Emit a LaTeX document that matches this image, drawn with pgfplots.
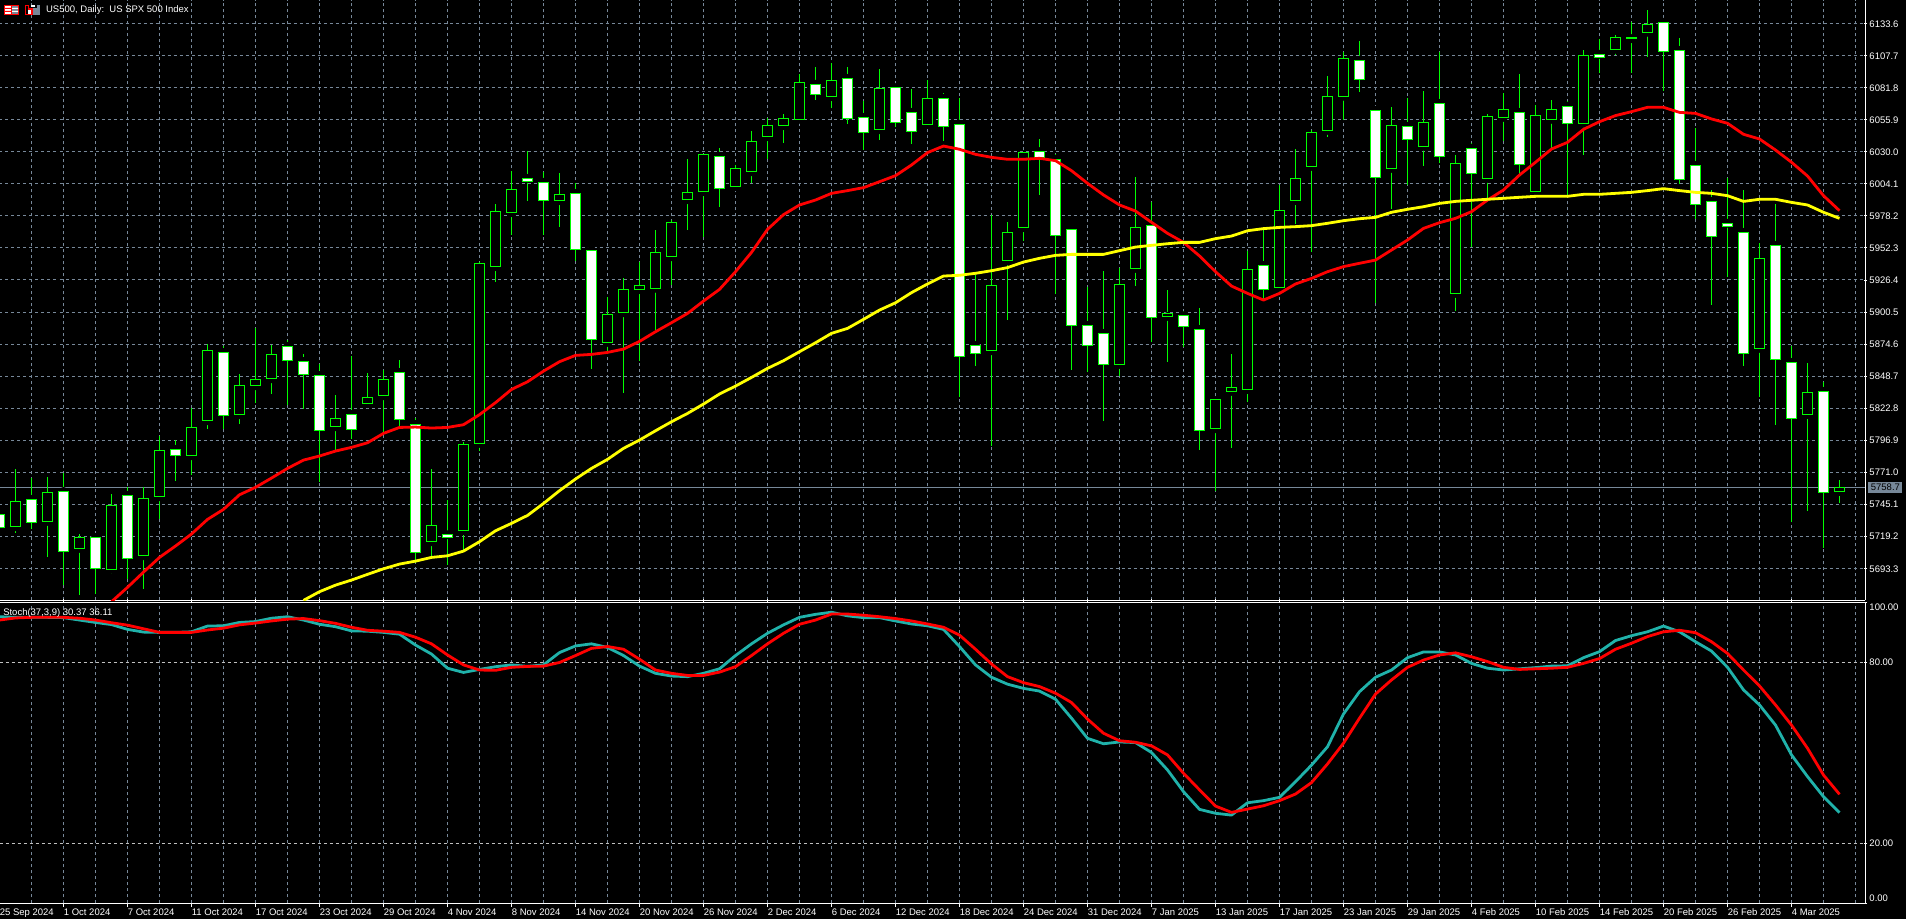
\documentclass[border=0pt]{standalone}
\usepackage{fontspec}
\setmainfont{Liberation Sans}
\usepackage{pgfplots}
\usepackage{pgfplotstable}
\pgfplotsset{compat=1.18}

\definecolor{cgreen}{RGB}{0,255,0}
\definecolor{cred}{RGB}{255,0,0}
\definecolor{cyel}{RGB}{255,255,0}
\definecolor{cteal}{RGB}{32,178,170}
\definecolor{cgrid}{RGB}{119,136,153}
\definecolor{clevel}{RGB}{192,192,192}

% bar, open, high, low, close, fast MA, slow MA, %K, %D
\pgfplotstableread{
n o h l c fast slow k d
0 5737.0 5738.0 5725.0 5726.3 nan nan 95.2 94.1
1 5727.1 5773.7 5722.2 5747.5 nan nan 95.0 94.8
2 5749.2 5766.4 5725.5 5730.3 nan nan 95.0 95.0
3 5731.4 5767.2 5702.8 5754.8 nan nan 95.0 95.0
4 5755.6 5770.7 5679.9 5706.9 nan nan 94.9 95.0
5 5709.6 5720.9 5671.9 5718.5 nan nan 94.1 94.7
6 5718.5 5721.7 5672.7 5693.4 nan nan 93.3 94.1
7 5692.6 5753.2 5688.8 5744.3 5666.5 nan 92.6 93.2
8 5752.4 5758.9 5684.5 5701.5 5678.1 nan 91.0 92.4
9 5703.6 5758.9 5677.0 5750.0 5690.4 nan 90.1 91.2
10 5751.3 5800.3 5733.3 5788.7 5702.3 nan 90.0 90.0
11 5789.6 5797.1 5764.0 5784.7 5711.5 nan 90.0 90.0
12 5784.4 5822.7 5769.1 5807.3 5721.2 nan 90.2 90.0
13 5812.7 5874.7 5806.0 5869.5 5733.0 nan 92.1 90.8
14 5867.9 5872.8 5806.0 5816.8 5741.1 nan 92.2 91.4
15 5817.6 5850.4 5810.0 5841.3 5752.9 nan 93.3 92.5
16 5841.0 5887.3 5827.3 5846.1 5758.9 nan 93.6 93.1
17 5846.6 5873.8 5834.3 5866.3 5766.4 nan 94.7 93.8
18 5872.8 5877.6 5825.1 5861.2 5774.2 nan 95.2 94.4
19 5860.6 5866.6 5822.4 5849.9 5780.9 5667.6 94.1 94.6
20 5849.3 5858.2 5763.2 5804.9 5784.2 5674.6 92.7 93.9
21 5807.9 5833.4 5788.7 5814.6 5788.2 5679.9 91.9 93.0
22 5817.8 5865.0 5797.9 5805.4 5791.2 5684.0 90.5 91.7
23 5826.4 5851.2 5824.6 5831.6 5794.9 5688.6 90.4 90.7
24 5832.9 5853.4 5803.3 5846.1 5802.5 5693.1 90.0 90.4
25 5851.8 5861.7 5807.9 5813.5 5807.3 5696.9 89.4 90.0
26 5809.8 5814.6 5697.5 5706.1 5807.6 5699.3 85.8 88.4
27 5715.0 5773.7 5702.8 5728.2 5806.8 5702.3 82.8 86.2
28 5720.6 5748.6 5696.1 5718.5 5807.3 5703.6 78.1 82.5
29 5724.1 5795.7 5706.9 5793.6 5809.5 5707.4 76.7 79.2
30 5794.4 5941.2 5788.5 5939.9 5817.6 5715.0 77.7 77.5
31 5937.2 5987.8 5924.8 5981.9 5827.3 5723.8 78.6 77.4
32 5980.8 6014.2 5962.7 5999.6 5838.0 5729.8 79.2 78.4
33 6008.5 6030.3 5990.2 6006.1 5844.2 5736.2 78.7 78.7
34 6005.3 6013.6 5962.7 5990.5 5852.8 5745.9 79.2 78.8
35 5990.5 6012.8 5969.2 5995.6 5860.4 5756.2 83.3 80.0
36 5996.4 6004.5 5941.7 5951.2 5865.5 5765.6 85.5 82.3
37 5950.4 5950.4 5854.5 5878.4 5866.3 5774.2 86.2 84.7
38 5876.0 5912.4 5867.1 5898.6 5867.9 5781.5 85.0 85.3
39 5900.0 5927.7 5835.3 5918.8 5870.6 5790.4 82.3 84.4
40 5918.6 5940.7 5861.2 5922.1 5876.8 5797.1 78.8 81.1
41 5919.7 5966.8 5886.0 5948.7 5884.6 5804.6 76.4 77.5
42 5945.2 5975.0 5922.3 5973.0 5891.9 5811.9 75.5 76.4
43 5991.3 6024.1 5966.8 5997.2 5899.4 5818.6 75.3 75.7
44 5997.8 6028.5 5961.1 6027.9 5909.4 5826.2 76.4 75.7
45 6026.3 6032.8 5985.4 6000.2 5918.8 5834.3 77.9 76.8
46 6001.8 6019.0 6000.8 6016.6 5933.1 5840.7 82.3 78.6
47 6013.9 6046.8 6004.8 6038.4 5948.7 5847.7 86.2 82.3
48 6042.2 6057.3 6024.1 6051.3 5967.3 5855.0 89.7 86.2
49 6051.1 6060.5 6036.8 6057.0 5979.2 5861.2 92.5 89.7
50 6056.2 6092.8 6053.0 6086.1 5987.0 5868.5 95.0 92.7
51 6084.5 6098.5 6071.8 6076.1 5991.0 5875.7 96.0 94.1
52 6074.5 6101.4 6065.1 6087.7 5996.4 5883.3 96.7 96.1
53 6089.3 6098.5 6052.4 6056.7 5998.6 5887.3 95.5 96.1
54 6057.8 6071.0 6031.7 6045.4 6001.0 5894.6 94.9 95.7
55 6047.8 6096.6 6039.5 6081.2 6005.8 5902.1 94.9 95.2
56 6081.8 6082.5 6050.3 6053.5 6010.7 5908.0 93.8 94.6
57 6061.8 6080.7 6036.3 6046.2 6019.3 5916.2 92.8 93.8
58 6051.9 6088.0 6048.4 6073.2 6029.3 5923.2 92.2 92.8
59 6073.2 6077.5 6038.7 6050.3 6034.6 5929.6 91.0 91.7
60 6052.2 6073.4 5831.8 5864.4 6032.0 5930.2 85.3 89.1
61 5873.6 5930.4 5856.9 5866.8 6027.9 5931.8 79.2 84.4
62 5869.3 5978.9 5792.5 5922.1 6025.5 5933.9 75.1 79.5
63 5942.0 5973.0 5894.0 5964.9 6023.9 5936.4 72.8 75.3
64 5968.7 6030.0 5958.2 6029.5 6023.9 5940.9 71.4 73.3
65 6030.1 6040.0 5995.1 6025.5 6024.7 5943.9 70.5 72.0
66 6023.9 6028.2 5915.1 5962.5 6022.8 5946.3 67.8 69.8
67 5967.3 5970.8 5853.6 5889.7 6014.7 5947.1 61.5 66.7
68 5889.7 5921.0 5852.3 5873.6 6004.5 5947.1 54.8 61.2
69 5883.3 5933.7 5812.7 5858.2 5995.1 5947.1 53.0 56.5
70 5858.2 5935.8 5849.1 5922.9 5987.0 5950.1 53.6 54.0
71 5935.8 6009.6 5921.8 5968.9 5982.1 5953.0 53.4 53.5
72 5970.6 5989.1 5876.0 5896.2 5973.0 5954.4 50.1 52.3
73 5897.0 5918.3 5860.1 5899.4 5964.1 5955.7 44.3 49.3
74 5897.5 5901.3 5872.5 5888.9 5956.8 5956.8 37.1 43.2
75 5886.5 5903.5 5789.3 5804.9 5945.8 5956.8 31.2 37.7
76 5806.2 5830.4 5756.2 5829.9 5933.1 5959.8 29.9 32.3
77 5836.4 5866.6 5790.9 5839.6 5921.5 5961.9 29.3 30.2
78 5838.0 5950.1 5827.5 5935.0 5915.6 5966.2 33.4 31.3
79 5938.2 5966.8 5911.0 5918.8 5910.2 5967.9 34.1 32.4
80 5920.5 6003.1 5915.0 5982.7 5915.6 5968.9 35.2 34.1
81 5990.5 6032.2 5971.9 6008.5 5923.2 5969.5 40.4 36.3
82 6018.2 6047.6 5948.7 6045.7 5927.7 5970.3 45.9 40.1
83 6047.3 6091.2 6042.2 6074.8 5933.1 5972.2 52.0 46.3
84 6074.8 6110.9 6055.7 6105.5 5937.2 5974.3 62.9 53.2
85 6103.9 6119.5 6078.5 6088.5 5939.9 5975.9 70.3 61.5
86 6063.5 6064.0 5908.0 6009.3 5942.5 5977.0 75.1 69.5
87 6016.6 6066.4 5983.7 6051.3 5950.6 5981.1 77.5 74.2
88 6050.5 6073.4 6002.9 6040.0 5958.7 5983.5 81.6 78.4
89 6034.4 6079.1 6018.8 6053.8 5968.1 5985.6 83.5 80.8
90 6069.1 6110.9 6021.2 6026.3 5972.7 5988.3 83.5 82.5
91 5915.6 6027.4 5901.3 6020.6 5976.2 5989.9 82.5 83.2
92 6032.8 6037.3 5953.3 6012.6 5981.6 5990.8 79.7 81.9
93 6008.5 6060.5 5989.7 6058.6 5991.0 5991.6 78.1 80.3
94 6057.8 6077.5 6038.7 6064.3 5999.1 5992.4 77.5 78.4
95 6061.8 6092.8 6010.7 6019.8 6011.2 5993.2 77.9 77.7
96 5997.8 6067.5 5995.9 6059.4 6021.5 5994.0 78.3 77.9
97 6056.2 6071.8 6032.8 6064.3 6032.2 5994.0 78.8 78.1
98 6066.7 6070.7 5995.1 6053.0 6037.6 5994.0 78.9 78.4
99 6053.0 6112.2 6027.6 6107.9 6048.1 5995.6 81.6 79.7
100 6108.7 6120.8 6093.9 6106.3 6054.3 5995.6 83.6 81.3
101 6112.7 6124.3 6107.9 6122.4 6059.2 5996.4 87.3 84.4
102 6121.4 6134.6 6093.9 6122.4 6062.4 5997.2 88.9 86.4
103 6126.5 6144.5 6106.8 6132.9 6065.9 5998.6 90.2 88.6
104 6134.6 6135.0 6079.4 6111.1 6065.9 6000.2 92.1 90.2
105 6111.9 6121.9 6003.7 6007.7 6061.8 5998.6 90.2 90.7
106 6019.0 6048.9 5975.7 5987.5 6061.0 5997.2 86.9 89.9
107 5989.9 5999.1 5906.2 5961.7 6056.5 5996.4 83.8 86.9
108 5972.2 6008.5 5929.1 5969.5 6053.0 5994.5 78.4 83.0
109 5964.9 5999.1 5857.1 5867.1 6044.1 5989.9 70.9 77.5
110 5871.2 5956.0 5832.1 5943.9 6040.3 5991.6 65.9 72.2
111 5954.4 5987.8 5809.2 5862.3 6031.4 5991.6 59.2 65.9
112 5859.8 5873.0 5730.6 5814.6 6021.5 5989.1 49.3 59.2
113 5817.8 5859.0 5740.0 5835.6 6010.4 5987.0 42.1 51.5
114 5836.4 5844.0 5710.1 5754.8 5994.5 5981.1 35.4 42.6
115 5755.6 5764.8 5746.5 5758.7 5982.4 5976.2 30.1 36.2
}\bars

\pgfplotsset{
  chart/.style={
    scale only axis, clip mode=individual,
    xmin=0, xmax=116.6125,
    axis line style={draw=white, line width=.45pt},
    tick style={draw=white, line width=.45pt},
    major tick length=1.75pt, minor tick length=0pt,
    tick align=outside,
    xtick={0,4,...,112}, minor xtick={2,6,...,114,116},
    xmajorgrids, xminorgrids, ymajorgrids,
    grid style={draw=cgrid, line width=.5pt, dash pattern=on 1.5pt off 1.5pt},
    tick label style={font=\fontsize{4.75}{5}\selectfont, text=white},
    yticklabel style={anchor=base west, inner sep=0pt, xshift=1pt, yshift=-1.75pt},
  },
  noarrows/.style={
    every inner x axis line/.append style={-},
    every inner y axis line/.append style={-},
    every outer x axis line/.append style={-},
    every outer y axis line/.append style={-},
  },
}

\begin{document}
\begin{tikzpicture}
\fill[black] (0,0) rectangle (953pt,459.5pt);
\path[use as bounding box] (0,0) rectangle (953pt,459.5pt);

\begin{axis}[chart,
    at={(-0.25pt,159.25pt)}, anchor=south west,
    width=932.9pt, height=300.25pt,
    ymin=5667.5, ymax=6152.6,
    axis x line=bottom, axis y line=right, noarrows,
    x tick style={draw=none}, xticklabels={},
    ytick={5693.3,5719.2,5745.1,5771.0,5796.9,5822.8,5848.7,5874.6,5900.5,5926.4,5952.3,5978.2,6004.1,6030.0,6055.9,6081.8,6107.7,6133.6},
    yticklabels={5693.3,5719.2,5745.1,5771.0,5796.9,5822.8,5848.7,5874.6,5900.5,5926.4,5952.3,5978.2,6004.1,6030.0,6055.9,6081.8,6107.7,6133.6},
]
% last price line
\addplot[forget plot, cgrid, line width=.5pt] coordinates {(0,5758.7) (116.6125,5758.7)};
% wicks
\addplot[forget plot, only marks, mark=none,
    error bars/.cd, y dir=both, y explicit, error mark=none,
    error bar style={draw=cgreen, line width=.5pt}]
  table[x=n, y=o, y error plus expr=\thisrow{h}-\thisrow{o}, y error minus expr=\thisrow{o}-\thisrow{l}] {\bars};
% bodies: white falling, black rising
\pgfplotsinvokeforeach{0,...,115}{
  \pgfplotstablegetelem{#1}{o}\of\bars \let\vo\pgfplotsretval
  \pgfplotstablegetelem{#1}{c}\of\bars \let\vc\pgfplotsretval
  \pgfmathsetmacro\xa{#1-0.2875}
  \pgfmathsetmacro\xb{#1+0.2875}
  \pgfmathparse{\vc>\vo?"black":"white"}\edef\bodycol{\pgfmathresult}
  \edef\temp{\noexpand\addplot[forget plot, draw=cgreen, fill=\bodycol, line width=.5pt]
    coordinates {(\xa,\vo) (\xb,\vo) (\xb,\vc) (\xa,\vc)} -- cycle;}
  \temp
}
\addplot[forget plot, cred, line width=1.4pt, line join=round] table[x=n, y=fast] {\bars};
\addplot[forget plot, cyel, line width=1.4pt, line join=round] table[x=n, y=slow] {\bars};

\node[anchor=base west, inner sep=0pt, text=white, font=\fontsize{4.75}{5}\selectfont]
  at (rel axis cs:0.02476,0.9784) {US500, Daily:\ \ US SPX 500 Index};
\node[anchor=west, inner sep=0pt, fill=cgrid, text=black, minimum width=17pt, minimum height=5.35pt,
  font=\fontsize{4.75}{5}\selectfont] at (axis cs:116.6125,5758.7) [xshift=1.35pt] {5758.7};
\end{axis}

\begin{axis}[chart,
    at={(-0.25pt,7.85pt)}, anchor=south west,
    width=932.9pt, height=150.5pt,
    ymin=0, ymax=100,
    axis x line=box, axis y line=right, noarrows,
    ytick={0,20,80,100},
    yticklabels={\raisebox{2.8pt}{0.00},20.00,80.00,\raisebox{-2.3pt}{100.00}},
    y grid style={draw=clevel},
    xticklabels={25 Sep 2024,1 Oct 2024,7 Oct 2024,11 Oct 2024,17 Oct 2024,23 Oct 2024,29 Oct 2024,4 Nov 2024,8 Nov 2024,14 Nov 2024,20 Nov 2024,26 Nov 2024,2 Dec 2024,6 Dec 2024,12 Dec 2024,18 Dec 2024,24 Dec 2024,31 Dec 2024,7 Jan 2025,13 Jan 2025,17 Jan 2025,23 Jan 2025,29 Jan 2025,4 Feb 2025,10 Feb 2025,14 Feb 2025,20 Feb 2025,26 Feb 2025,4 Mar 2025},
    xticklabel style={anchor=base west, inner sep=0pt, yshift=-4.6pt},
]
\addplot[forget plot, cteal, line width=1.4pt, line join=round] table[x=n, y=k] {\bars};
\addplot[forget plot, cred, line width=1.4pt, line join=round] table[x=n, y=d] {\bars};
\node[anchor=base west, inner sep=0pt, text=white, font=\fontsize{4.75}{5}\selectfont]
  at (rel axis cs:0.0018,0.9568) {Stoch(37,3,9) 30.37 36.11};
\end{axis}

% the two toolbar glyphs beside the title
\begin{scope}[shift={(0,459.5pt)}, x=.5pt, y=-.5pt]
  \fill[cred] (4,5) rectangle (19,15);
  \fill[white] (5,6) rectangle (11,14);
  \fill[cred] (5,8) rectangle (11,9) (5,11) rectangle (11,12);
  \fill[cgrid] (12,6) rectangle (18,14);
  \fill[white] (12,8) rectangle (18,9) (12,11) rectangle (18,12);
  \fill[cred] (25,5) rectangle (33,15);
  \fill[black] (26,6) rectangle (28,14);
  \fill[white] (28,10) rectangle (31,14);
  \fill[cgrid] (33,5) rectangle (40,15);
  \fill[black] (29,5) rectangle (37,8);
  \fill[white] (31,5) rectangle (35,7);
\end{scope}
\end{tikzpicture}
\end{document}
